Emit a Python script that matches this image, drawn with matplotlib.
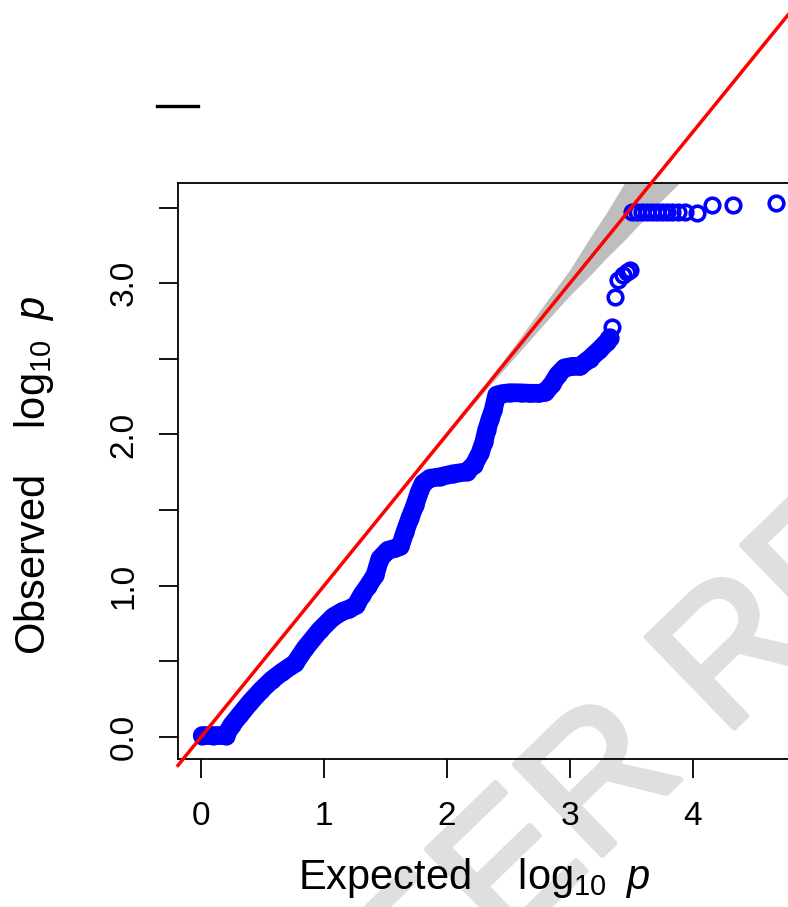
import matplotlib
matplotlib.use('Agg')
import matplotlib.pyplot as plt
import matplotlib.patheffects as pe
from matplotlib.lines import Line2D

plt.rcParams['font.family'] = ['Liberation Sans', 'DejaVu Sans']
plt.rcParams['mathtext.fontset'] = 'custom'
plt.rcParams['mathtext.rm'] = 'Liberation Sans'
plt.rcParams['mathtext.it'] = 'Liberation Sans:italic'

# QQ data: expected vs observed -log10 p (dense part, overlapping circles)
exp_dense = [0.01, 0.10, 0.20, 0.25, 0.32, 0.40, 0.49, 0.575, 0.66, 0.764,
             0.846, 0.967, 1.076, 1.15, 1.20, 1.26, 1.307, 1.36, 1.415, 1.455,
             1.52, 1.577, 1.62, 1.659, 1.70, 1.74, 1.775, 1.807, 1.86, 1.943,
             2.05, 2.16, 2.22, 2.268, 2.30, 2.323, 2.35, 2.376, 2.404, 2.45,
             2.512, 2.60, 2.675, 2.75, 2.80, 2.855, 2.90, 2.955, 3.02, 3.08,
             3.16, 3.24, 3.30, 3.325]
obs_dense = [0.01, 0.01, 0.01, 0.08, 0.15, 0.23, 0.31, 0.377, 0.43, 0.487,
             0.586, 0.707, 0.795, 0.83, 0.845, 0.87, 0.939, 1.00, 1.07, 1.18,
             1.235, 1.247, 1.26, 1.357, 1.45, 1.533, 1.62, 1.677, 1.71, 1.72,
             1.74, 1.753, 1.80, 1.875, 1.95, 2.029, 2.10, 2.161, 2.26, 2.27,
             2.276, 2.275, 2.272, 2.272, 2.28, 2.333, 2.393, 2.44, 2.45, 2.45,
             2.50, 2.56, 2.61, 2.64]

# separated points in the tail
exp_tail = [3.339, 3.366, 3.393, 3.433, 3.461, 3.488,
            3.502, 3.543, 3.583, 3.624, 3.664, 3.705, 3.745, 3.786, 3.827,
            3.881, 3.935, 4.030, 4.152, 4.323, 4.675]
obs_tail = [2.712, 2.910, 3.020, 3.053, 3.075, 3.087,
            3.472, 3.472, 3.472, 3.472, 3.472, 3.472, 3.472, 3.472, 3.472,
            3.470, 3.468, 3.466, 3.516, 3.516, 3.529]

# confidence band
band_x = [1.5, 2.0, 2.3, 2.55, 2.8, 3.0, 3.15, 3.3, 3.45, 3.6, 3.75, 3.9, 4.1, 4.4]
band_lo = [1.495, 1.99, 2.28, 2.51, 2.74, 2.92, 3.04, 3.17, 3.29, 3.42, 3.55, 3.67, 3.83, 4.07]
band_hi = [1.505, 2.01, 2.32, 2.59, 2.87, 3.09, 3.285, 3.47, 3.67, 3.88, 4.10, 4.30, 4.60, 5.00]

x_ticks = [0, 1, 2, 3, 4]
y_ticks = [0.0, 0.5, 1.0, 1.5, 2.0, 2.5, 3.0, 3.5]
y_ticklabels = ['0.0', '', '1.0', '', '2.0', '', '3.0', '']

fig = plt.figure(figsize=(7.88, 9.07), dpi=100)
ax = fig.add_axes([178 / 788, 1 - 759 / 907, (827 - 178) / 788, (759 - 183) / 907])
ax.patch.set_visible(False)
ax.set_xlim(-0.187, 5.09)
ax.set_ylim(-0.145, 3.662)

ax.fill_between(band_x, band_lo, band_hi, color='#BEBEBE', lw=0, zorder=1)

ax.plot(exp_dense, obs_dense, color='blue', lw=13.5, solid_capstyle='round',
        solid_joinstyle='round', zorder=2)
ax.plot(exp_dense, obs_dense, 'o', mfc='none', mec='blue', ms=10.5, mew=2.6, zorder=2)
ax.plot(exp_tail, obs_tail, 'o', mfc='none', mec='blue', ms=10.5, mew=2.6, zorder=2)

# y = x reference line, not clipped like in the original
ax.plot([-0.187, 5.5], [-0.187, 5.5], color='red', lw=2.5, clip_on=False, zorder=3)

for s in ax.spines.values():
    s.set_linewidth(1.3)
ax.spines['right'].set_visible(False)

ax.set_xticks(x_ticks)
ax.set_yticks(y_ticks)
ax.set_yticklabels(y_ticklabels, rotation=90, va='center')
ax.tick_params(axis='both', length=13.5, width=1.3, labelsize=24, direction='out')
ax.tick_params(axis='x', pad=17)
ax.tick_params(axis='y', pad=14)

fig.text(474.5 / 788, 1 - 889 / 907, r'Expected $\quad\mathrm{log}_{10}\;\;\mathit{p}$',
         ha='center', va='baseline', fontsize=30)
fig.text(34 / 788, 1 - 475 / 907, r'Observed $\quad\mathrm{log}_{10}\;\;\mathit{p}$',
         ha='center', va='center', rotation=90, fontsize=30)

# stray dash above the plot
fig.add_artist(Line2D([157 / 788, 198 / 788], [1 - 105.5 / 907] * 2, color='black', lw=2.4))

# watermark
fig.text(0.955, 0.29, 'PEER REVIEW', rotation=44, rotation_mode='anchor',
         ha='center', va='center', fontsize=132, color='#DFDFDF', zorder=-1,
         path_effects=[pe.withStroke(linewidth=4, foreground='#DFDFDF')])

fig.savefig('out.png', dpi=100)
